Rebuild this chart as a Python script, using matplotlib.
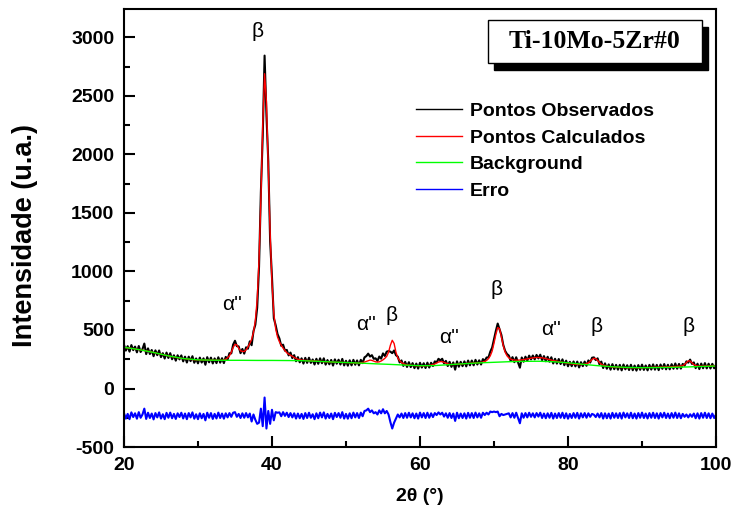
import numpy as np
import matplotlib
matplotlib.use("Agg")
import matplotlib.pyplot as plt
from matplotlib.patches import Rectangle

plt.rcParams['font.family'] = ['Liberation Sans', 'DejaVu Sans']
plt.rcParams['axes.unicode_minus'] = False

# scan grid 20..100 deg, step 0.25
two_theta = np.linspace(20, 100, 321)

y_obs = [
    374, 324, 362, 315,  371, 328, 358, 309,  363, 312, 337, 384,  294, 343, 295, 329,
    276, 326, 285, 325,  268, 302, 256, 307,  261, 302, 250, 284,  238, 284, 249, 283,
    232, 272, 222, 272,  234, 276, 220, 257,  215, 264, 222, 258,  203, 268, 224, 264,
    214, 257, 217, 267,  221, 259, 217, 270,  247, 302, 300, 375,  408, 362, 360, 302,
    338, 298, 352, 340,  403, 370, 490, 545,  690, 1040, 1680, 2160,  2845, 2340, 1940, 1260,
    950, 600, 540, 465,  428, 365, 375, 323,  330, 283, 307, 260,  285, 233, 268, 224,
    258, 213, 262, 219,  263, 219, 248, 205,  254, 211, 258, 216,  258, 204, 243, 207,
    244, 196, 249, 212,  246, 205, 253, 197,  237, 195, 241, 198,  245, 203, 240, 198,
    245, 217, 266, 277,  298, 273, 285, 254,  258, 236, 273, 255,  300, 278, 315, 320,
    315, 302, 325, 285,  272, 223, 240, 193,  228, 184, 225, 183,  217, 174, 213, 170,
    220, 179, 216, 175,  221, 179, 220, 192,  232, 223, 254, 240,  254, 215, 236, 192,
    228, 185, 223, 161,  232, 186, 228, 191,  232, 189, 239, 198,  239, 198, 245, 205,
    241, 205, 251, 236,  265, 265, 315, 350,  423, 492, 555, 507,  457, 373, 322, 295,
    282, 237, 268, 225,  267, 222, 178, 265,  229, 272, 238, 281,  249, 282, 249, 287,
    257, 289, 242, 277,  233, 271, 229, 267,  214, 254, 213, 252,  209, 249, 199, 238,
    190, 228, 191, 231,  189, 230, 180, 225,  191, 230, 194, 240,  222, 263, 266, 243,
    258, 207, 230, 175,  215, 169, 206, 161,  208, 165, 202, 161,  202, 155, 205, 164,
    199, 158, 203, 156,  196, 153, 200, 160,  204, 159, 197, 155,  202, 162, 206, 161,
    202, 157, 205, 168,  209, 164, 203, 164,  208, 169, 214, 169,  210, 170, 210, 195,
    232, 221, 247, 210,  223, 174, 212, 166,  213, 173, 217, 172,  212, 171, 211, 173,
    204,
]

# calculated pattern
y_calc = [
    352, 349, 347, 345,  343, 340, 338, 335,  333, 330, 327, 324,  322, 318, 315, 311,
    308, 304, 300, 297,  293, 290, 286, 283,  279, 276, 272, 269,  266, 264, 261, 258,
    256, 254, 252, 250,  249, 248, 246, 245,  245, 244, 244, 243,  243, 243, 242, 242,
    242, 242, 241, 241,  241, 241, 243, 250,  262, 280, 310, 350,  378, 372, 345, 322,
    318, 316, 330, 355,  385, 420, 480, 580,  760, 1100, 1620, 2250,  2690, 2450, 1900, 1330,
    900, 640, 510, 440,  400, 370, 345, 325,  305, 295, 285, 275,  265, 258, 250, 246,
    243, 241, 240, 239,  238, 237, 236, 235,  234, 233, 232, 231,  230, 229, 228, 227,
    226, 226, 225, 224,  224, 223, 223, 222,  222, 221, 221, 220,  219, 218, 218, 218,
    219, 222, 226, 232,  238, 243, 240, 234,  228, 226, 228, 235,  245, 258, 275, 310,
    370, 412, 385, 310,  262, 238, 222, 213,  206, 202, 200, 198,  197, 196, 195, 195,
    194, 194, 194, 195,  196, 197, 200, 204,  210, 218, 226, 230,  229, 223, 216, 210,
    206, 205, 205, 206,  207, 208, 210, 211,  212, 214, 215, 216,  217, 218, 219, 220,
    221, 223, 226, 231,  240, 255, 280, 320,  388, 462, 520, 512,  442, 368, 312, 280,
    262, 252, 246, 243,  242, 242, 243, 245,  247, 250, 253, 256,  259, 262, 264, 265,
    265, 264, 262, 259,  255, 251, 247, 243,  239, 236, 233, 230,  227, 224, 221, 218,
    216, 213, 211, 209,  207, 206, 205, 205,  206, 208, 212, 220,  232, 248, 258, 255,
    240, 222, 208, 200,  195, 191, 188, 186,  184, 183, 182, 181,  180, 180, 179, 179,
    179, 178, 178, 178,  178, 178, 178, 178,  178, 179, 179, 179,  180, 180, 181, 181,
    182, 182, 183, 183,  184, 184, 185, 186,  186, 187, 188, 189,  190, 192, 195, 205,
    222, 236, 235, 220,  205, 196, 192, 191,  191, 191, 192, 192,  192, 193, 193, 193,
    194,
]

# background
bg_x = [20, 22, 24, 26, 28, 30, 32, 34, 36, 38, 40, 42, 44, 46, 48, 50, 52, 54, 56, 58,
        60, 62, 64, 66, 68, 70, 72, 74, 76, 78, 80, 82, 84, 86, 88, 90, 92, 94, 96, 98, 100]
bg_y = [352, 333, 308, 279, 256, 245, 242, 241, 241, 240, 240, 239, 238, 233, 227, 222, 217, 211, 206, 200,
        195, 196, 204, 212, 219, 224, 229, 232, 233, 229, 220, 207, 195, 186, 180, 178, 179, 181, 184, 188, 192]

erro_offset = -232  # difference curve is shifted down

# peak labels
peak_labels = ["β", "α''", "α''", "β", "α''", "β", "α''", "β", "β"]
label_pos = [(38.1, 3050), (34.6, 714), (52.7, 543), (56.1, 628), (63.9, 440),
             (70.4, 842), (77.7, 500), (83.9, 526), (96.35, 526)]

y_obs = np.array(y_obs)
y_calc = np.array(y_calc)
y_erro = y_obs - y_calc + erro_offset

fig = plt.figure(figsize=(7.34, 5.15), dpi=100)
ax = fig.add_axes([0.1689, 0.132, 0.8066, 0.8505])

ax.plot(two_theta, y_obs, color='black', lw=1.5, label='Pontos Observados')
ax.plot(two_theta, y_calc, color='red', lw=1.0, label='Pontos Calculados')
ax.plot(bg_x, bg_y, color='#00ff00', lw=1.0, label='Background')
ax.plot(two_theta, y_erro, color='blue', lw=1.5, label='Erro')

for txt, (px, py) in zip(peak_labels, label_pos):
    ax.text(px, py, txt, ha='center', va='center', fontsize=15)

ax.set_xlim(20, 100)
ax.set_ylim(-500, 3243)
ax.set_xticks([20, 40, 60, 80, 100])
ax.set_xticks([30, 50, 70, 90], minor=True)
ax.set_yticks(np.arange(-500, 3001, 500))
ax.set_yticks(np.arange(-250, 3200, 500), minor=True)
ax.tick_params(which='both', direction='in', width=1.5, labelsize=14, pad=7)
ax.tick_params(which='major', length=8)
ax.tick_params(which='minor', length=4)
for lab in ax.get_xticklabels() + ax.get_yticklabels():
    lab.set_fontweight('bold')
for sp in ax.spines.values():
    sp.set_linewidth(1.5)

ax.set_xlabel('2θ (°)', fontsize=14, fontweight='bold')
ax.set_ylabel('Intensidade (u.a.)', fontsize=19.5, fontweight='bold')
ax.xaxis.set_label_coords(0.5, -0.093)
ax.yaxis.set_label_coords(-0.145, 0.482)

leg = ax.legend(loc='upper left', bbox_to_anchor=(0.476, 0.809), frameon=False,
                handlelength=2.4, handletextpad=0.4, labelspacing=0.46, borderpad=0,
                prop={'weight': 'bold', 'size': 14})
for line in leg.get_lines():
    line.set_linewidth(1.0)

# title box with drop shadow
fig.add_artist(Rectangle((0.665 + 0.0082, 0.8777 - 0.0136), 0.2916, 0.0835,
                         transform=fig.transFigure, facecolor='black', edgecolor='black'))
fig.add_artist(Rectangle((0.665, 0.8777), 0.2916, 0.0835, transform=fig.transFigure,
                         facecolor='white', edgecolor='black', lw=1.0))
fig.text(0.8106, 0.9194, 'Ti-10Mo-5Zr#0', ha='center', va='center', fontsize=18.5,
         fontweight='bold', family='Liberation Serif')

fig.savefig('out.png', dpi=100)
